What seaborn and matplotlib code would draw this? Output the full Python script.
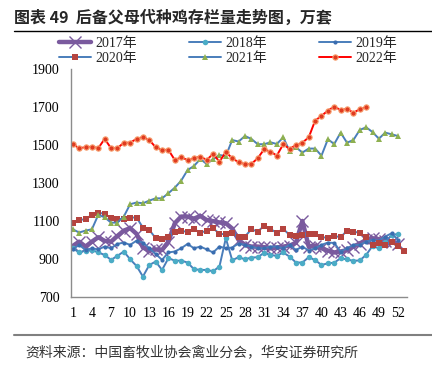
import matplotlib
matplotlib.use("Agg")
import matplotlib.pyplot as plt
from matplotlib.lines import Line2D
import seaborn as sns

# weekly stock of parent-stock replacement chickens, 10k sets
y2017 = [968, 991, 965, 991, 1014, 995, 991, 1021, 1049, 1062,
         1032, 960, 944, 950, 947, 991, 1088, 1123, 1123, 1112,
         1126, 1105, 1099, 1092, 1088, 1060, 1000, 974, 965, 965,
         962, 956, 960, 965, 970, 985, 1100, 965, 970, 956,
         944, 934, 939, 946, 965, 981, 1000, 1009, 1004, 996,
         991, 981]
y2018 = [956, 934, 944, 947, 934, 921, 895, 916, 939, 898,
         863, 807, 868, 886, 842, 904, 891, 891, 881, 846,
         842, 842, 835, 860, 1009, 893, 909, 898, 907, 909,
         932, 921, 916, 934, 912, 881, 881, 909, 894, 868,
         877, 880, 904, 897, 890, 892, 921, 968, 956, 990,
         1025, 1032]
y2019 = [950, 974, 947, 956, 950, 965, 956, 979, 986, 974,
         996, 986, 956, 926, 895, 934, 939, 956, 979, 956,
         965, 950, 934, 965, 956, 960, 981, 974, 965, 956,
         956, 965, 965, 956, 974, 947, 965, 944, 956, 974,
         986, 984, 939, 956, 974, 974, 991, 1000, 996, 1018,
         1035, 1000]
y2020 = [1091, 1105, 1109, 1132, 1144, 1137, 1114, 1109, 1111, 1118,
         1118, 1065, 1053, 1009, 1004, 1018, 1042, 1046, 1044, 1056,
         1039, 1047, 1062, 1032, 1030, 1039, 1018, 1018, 1056, 1044,
         1074, 1056, 1039, 1058, 1026, 1021, 1026, 1032, 1032, 1014,
         1012, 1021, 1014, 1049, 1044, 1037, 1014, 972, 984, 975,
         991, 966, 942]
y2021 = [1056, 1039, 1049, 1056, 1132, 1119, 1091, 1091, 1123, 1188,
         1197, 1193, 1207, 1219, 1219, 1246, 1275, 1312, 1368, 1389,
         1426, 1400, 1425, 1447, 1442, 1526, 1518, 1547, 1532, 1504,
         1504, 1514, 1505, 1540, 1468, 1488, 1460, 1481, 1481, 1444,
         1530, 1505, 1565, 1512, 1526, 1579, 1593, 1568, 1533, 1565,
         1556, 1547]
y2022 = [1504, 1483, 1488, 1491, 1483, 1532, 1483, 1483, 1512, 1512,
         1532, 1542, 1526, 1488, 1474, 1474, 1421, 1435, 1421, 1430,
         1439, 1421, 1453, 1412, 1463, 1430, 1409, 1400, 1400, 1430,
         1477, 1465, 1444, 1504, 1479, 1500, 1512, 1540, 1628, 1653,
         1681, 1702, 1684, 1690, 1670, 1688, 1700]

series = {"2017年": y2017, "2018年": y2018, "2019年": y2019,
          "2020年": y2020, "2021年": y2021, "2022年": y2022}
x_ticks = list(range(1, 53, 3))

styles = {
    "2017年": dict(color="#7A5A9E", lw=3.2, marker="x", ms=8, mew=1.0,
                   mfc="#7A5A9E", mec="#7A5A9E"),
    "2018年": dict(color="#4A7EBB", lw=1.4, marker="o", ms=4, mew=0,
                   mfc="#4BACC6", mec="#4BACC6"),
    "2019年": dict(color="#4A7EBB", lw=1.4, marker="o", ms=3, mew=0,
                   mfc="#3A6DB0", mec="#3A6DB0"),
    "2020年": dict(color="#4A7EBB", lw=1.4, marker="s", ms=4.5, mew=0,
                   mfc="#B5443F", mec="#B5443F"),
    "2021年": dict(color="#4A7EBB", lw=1.4, marker="^", ms=4.5, mew=0,
                   mfc="#8EB050", mec="#8EB050"),
    "2022年": dict(color="#FF0000", lw=1.4, marker="o", ms=3.8, mew=0.8,
                   mfc="#E03A20", mec="#F7A070"),
}

sns.set_style("white")
plt.rcParams['font.family'] = ['Liberation Serif', 'Noto Sans CJK SC']

fig = plt.figure(figsize=(4.32, 3.67), dpi=100)
ax = fig.add_axes([0.164, 0.191, 0.778, 0.621])

for name, vals in series.items():
    weeks = list(range(1, len(vals) + 1))
    sns.lineplot(x=weeks, y=vals, ax=ax, label=name, **styles[name])

ax.set_xlim(0.7, 53.4)
ax.set_ylim(700, 1900)
ax.set_yticks(range(700, 1901, 200))
ax.set_xticks(x_ticks)
ax.tick_params(axis="both", length=0, labelsize=10, colors="black")
ax.tick_params(axis="y", pad=8)
ax.tick_params(axis="x", pad=7)
for side in ["top", "right"]:
    ax.spines[side].set_visible(False)
for side in ["left", "bottom"]:
    ax.spines[side].set_color("#8C8C8C")
    ax.spines[side].set_linewidth(1.0)
ax.set_xlabel("")
ax.set_ylabel("")

# legend row-major like the original
handles, labels = ax.get_legend_handles_labels()
ax.legend_.remove()
order = [0, 3, 1, 4, 2, 5]
fig.legend([handles[i] for i in order], [labels[i] for i in order],
           ncol=3, loc="center", bbox_to_anchor=(0.528, 0.862),
           frameon=False, fontsize=10, handlelength=2.3,
           handletextpad=0.3, columnspacing=3.75, labelspacing=0.15)

fig.text(0.032, 0.953, "图表 49  后备父母代种鸡存栏量走势图，万套",
         fontsize=11.5, fontweight="bold", va="center",
         family=["Noto Sans CJK SC"])
fig.add_artist(Line2D([0.032, 1.0], [0.916, 0.916], color="black", lw=1.0))
fig.add_artist(Line2D([0.032, 1.0], [0.087, 0.087], color="#808080", lw=1.5))
fig.text(0.058, 0.041, "资料来源：中国畜牧业协会禽业分会，华安证券研究所",
         fontsize=10, va="center", color="#333333",
         family=["Noto Sans CJK SC"])

fig.savefig("out.png", dpi=100)
